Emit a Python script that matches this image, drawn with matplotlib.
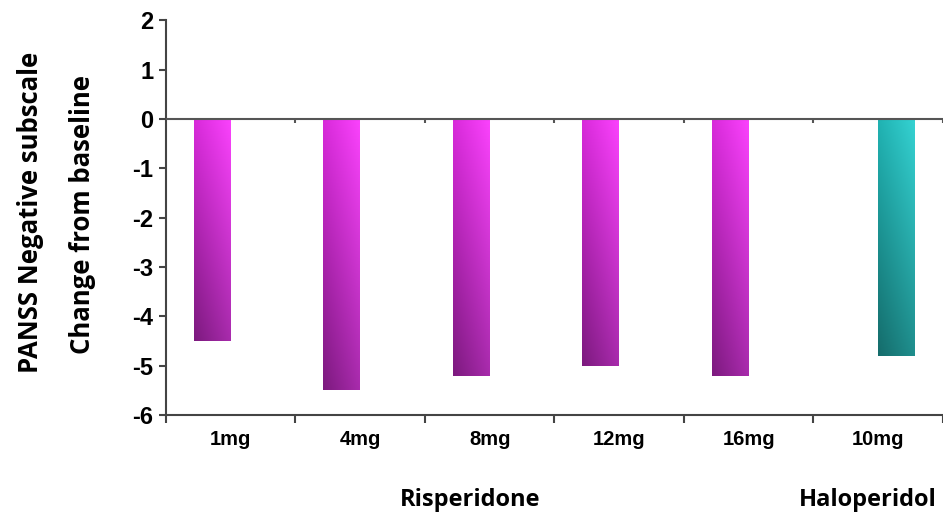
import numpy as np
import matplotlib.pyplot as plt
from matplotlib.colors import to_rgb

doses = ["1mg", "4mg", "8mg", "12mg", "16mg", "10mg"]
risperidone = [-4.5, -5.5, -5.2, -5.0, -5.2, np.nan]
haloperidol = [np.nan, np.nan, np.nan, np.nan, np.nan, -4.8]
yticks = [2, 1, 0, -1, -2, -3, -4, -5, -6]

fig = plt.figure(figsize=(9.43, 5.17), dpi=100)
ax = fig.add_axes([0.176, 0.197, 0.824, 0.764])

x = np.arange(len(doses))
w = 0.285

# corner colours: top-left, top-right, bottom-left, bottom-right
pink = ["#d82ada", "#fb42fd", "#7c1a7e", "#a82bac"]
teal = ["#20b2b2", "#35d2d2", "#156c6b", "#1f8e8d"]


def corner_grad(cols, n=64):
    tl, tr, bl, br = [np.array(to_rgb(c)) for c in cols]
    u = np.linspace(0, 1, n)[None, :, None]
    v = np.linspace(0, 1, n)[:, None, None]
    top = tl * (1 - u) + tr * u
    bot = bl * (1 - u) + br * u
    return top * (1 - v) + bot * v


def grad_bars(xs, vals, cols):
    bars = ax.bar(xs, vals, width=w, align="edge", color="none", edgecolor="none")
    img = corner_grad(cols)
    for b in bars:
        if np.isnan(b.get_height()):
            continue
        x0, y0 = b.get_x(), b.get_y()
        x1, y1 = x0 + b.get_width(), y0 + b.get_height()
        im = ax.imshow(img, aspect="auto", origin="upper",
                       extent=[x0, x1, min(y0, y1), max(y0, y1)],
                       zorder=2, interpolation="bilinear")
        im.set_clip_path(b)


grad_bars(x - w, risperidone, pink)
grad_bars(x, haloperidol, teal)

ax.set_xlim(-0.5, len(doses) - 0.5)
ax.set_ylim(-6, 2)

ax.axhline(0, color="#555555", lw=1.5, zorder=3)
ax.vlines(np.arange(len(doses)) + 0.5, -0.08, 0, color="#555555", lw=1.5, zorder=3)

ax.spines["top"].set_visible(False)
ax.spines["right"].set_visible(False)
for s in ["left", "bottom"]:
    ax.spines[s].set_color("#444444")
    ax.spines[s].set_linewidth(1.5)

ax.set_yticks(yticks)
ax.set_yticklabels([str(v) for v in yticks], fontsize=17, fontweight="bold",
                   family="Liberation Sans")
ax.set_xticks(np.arange(len(doses) + 1) - 0.5)
ax.set_xticklabels([])
ax.set_xticks(x, minor=True)
ax.set_xticklabels(doses, minor=True, fontsize=14.5, fontweight="bold", family="Liberation Sans")
ax.tick_params(axis="x", which="minor", length=0, pad=11)
ax.tick_params(axis="x", which="major", length=6, width=1.5, color="#444444", direction="out")
ax.tick_params(axis="y", length=5, width=1.5, color="#444444", pad=4)

fig.text(0.032, 0.59, "PANSS Negative subscale", rotation=90, ha="center", va="center",
         fontsize=18.5, fontweight="bold", family="Open Sans")
fig.text(0.088, 0.585, "Change from baseline", rotation=90, ha="center", va="center",
         fontsize=18.5, fontweight="bold", family="Open Sans")

ax.text(1.85, -7.72, "Risperidone", ha="center", va="center", fontsize=17, fontweight="bold",
        family="Open Sans")
ax.text(4.92, -7.72, "Haloperidol", ha="center", va="center", fontsize=17, fontweight="bold",
        family="Open Sans", clip_on=False)

fig.savefig("out.png", dpi=100)
